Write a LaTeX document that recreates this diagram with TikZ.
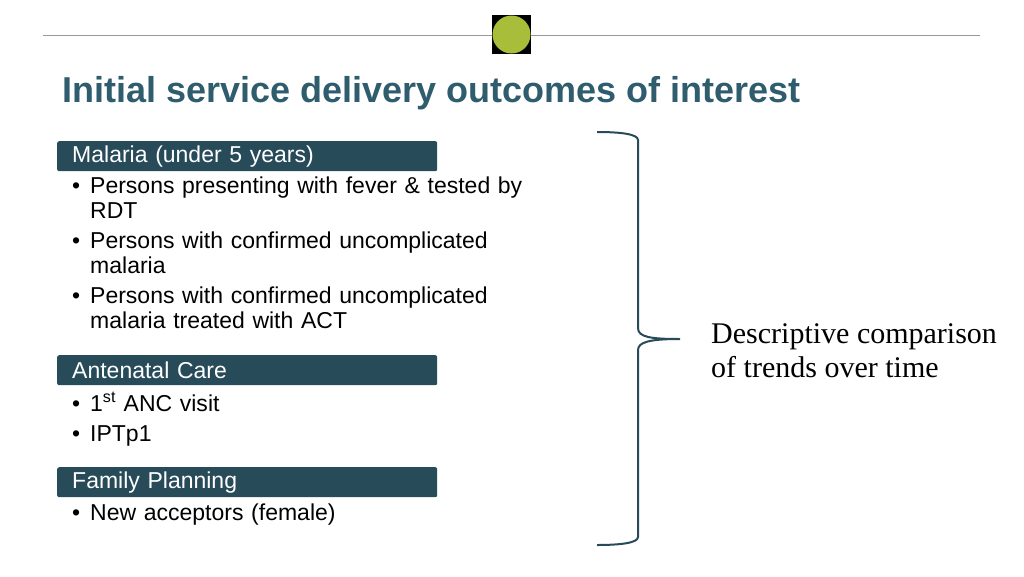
\documentclass[tikz,border=0pt]{standalone}
\usepackage{fontspec}
\setmainfont{Liberation Sans}
\newfontfamily\seriff{Liberation Serif}
\definecolor{teal}{HTML}{274B59}
\definecolor{ttl}{HTML}{2F5D6E}
\definecolor{lime}{HTML}{A8BD3A}
\newcommand{\bl}{\makebox[18pt][l]{\textbullet}}
\newcommand{\ind}{\hspace*{18pt}}
\begin{document}
\begin{tikzpicture}[x=1pt,y=-1pt,
  hdr/.style={fill=teal,rounded corners=2pt,minimum width=380pt,minimum height=30pt,anchor=north west,text=white,font=\fontsize{23}{26}\selectfont,inner xsep=15pt,align=left,text width=350pt},
  item/.style={anchor=north west,font=\fontsize{23}{25}\selectfont,align=left,text width=500pt,inner sep=0pt}]
\useasboundingbox (0,0) rectangle (1024,576);
\draw[gray!80,line width=1pt] (43,35) coordinate (l1) -- (980,35) coordinate (l2);
\node[fill=black,minimum size=39pt,inner sep=0pt] (sq) at (511.5,34.5) {};
\node[fill=lime,circle,minimum size=38pt,inner sep=0pt] (ci) at (sq) {};
\node[anchor=west,font=\bfseries\fontsize{36}{40}\selectfont,text=ttl,inner sep=0pt] (title) at (62,93) {Initial service delivery outcomes of interest};
\node[hdr] (h1) at (57,141) {Malaria (under 5 years)};
\node[item] (i1) at (72,177) {\bl Persons presenting with fever \& tested by\\\ind RDT\\[5pt]
\bl Persons with confirmed uncomplicated\\\ind malaria\\[5pt]
\bl Persons with confirmed uncomplicated\\\ind malaria treated with ACT};
\node[hdr] (h2) at (57,355) {Antenatal Care};
\node[item] (i2) at (72,392) {\bl 1\textsuperscript{st} ANC visit\\[5pt]\bl IPTp1};
\node[hdr] (h3) at (57,467) {Family Planning};
\node[item] (i3) at (72,504) {\bl New acceptors (female)};
\coordinate (bt) at (597,132);
\coordinate (bb) at (597,545);
\coordinate (tip) at (680,339);
\draw[teal,line width=2pt] (bt) .. controls (620,132) and (638,134) .. (638,140) -- (638,328)
  .. controls (638,337) and (650,339) .. (tip)
  .. controls (650,339) and (638,342) .. (638,350) -- (638,537)
  .. controls (638,543) and (620,545) .. (bb);
\node[anchor=west,font=\seriff\fontsize{30}{34}\selectfont,align=left,inner sep=0pt] (d) at (711,351) {Descriptive comparison\\of trends over time};
\end{tikzpicture}
\end{document}
